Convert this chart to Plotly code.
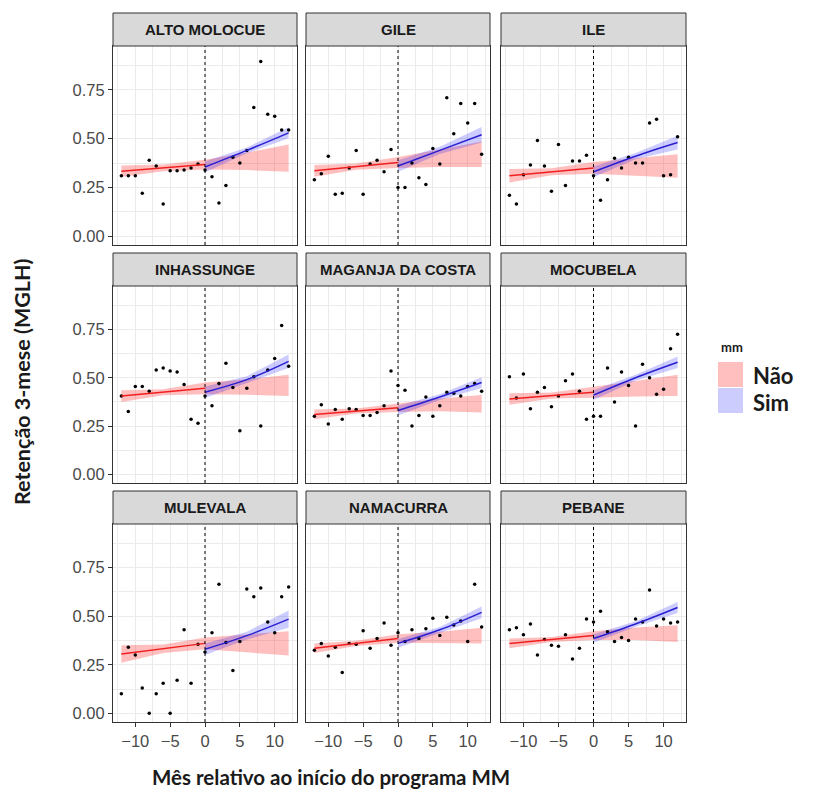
import plotly.graph_objects as go

# ---- data -------------------------------------------------------------
districts = ["ALTO MOLOCUE", "GILE", "ILE",
             "INHASSUNGE", "MAGANJA DA COSTA", "MOCUBELA",
             "MULEVALA", "NAMACURRA", "PEBANE"]

months = list(range(-12, 13))

retention = {
    "ALTO MOLOCUE": [0.31, 0.31, 0.31, 0.22, 0.39, 0.36, 0.165, 0.335, 0.335, 0.34, 0.35, 0.37,
                     0.34, 0.305, 0.17, 0.26, 0.405, 0.375, 0.44, 0.66, 0.895, 0.625, 0.615, 0.545, 0.545],
    "GILE": [0.29, 0.32, 0.41, 0.215, 0.22, 0.35, 0.44, 0.215, 0.37, 0.39, 0.33, 0.445,
             0.25, 0.25, 0.375, 0.30, 0.265, 0.45, 0.37, 0.71, 0.525, 0.68, 0.58, 0.68, 0.42],
    "ILE": [0.21, 0.165, 0.315, 0.365, 0.49, 0.36, 0.23, 0.47, 0.26, 0.385, 0.385, 0.415,
            0.31, 0.185, 0.29, 0.40, 0.35, 0.405, 0.375, 0.375, 0.58, 0.60, 0.31, 0.315, 0.51],
    "INHASSUNGE": [0.405, 0.325, 0.455, 0.455, 0.43, 0.54, 0.55, 0.535, 0.53, 0.465, 0.285, 0.265,
                   0.405, 0.355, 0.47, 0.575, 0.45, 0.225, 0.445, 0.505, 0.25, 0.54, 0.60, 0.77, 0.56],
    "MAGANJA DA COSTA": [0.30, 0.36, 0.26, 0.335, 0.285, 0.34, 0.335, 0.305, 0.305, 0.32, 0.355, 0.535,
                         0.46, 0.435, 0.25, 0.305, 0.40, 0.30, 0.355, 0.425, 0.42, 0.405, 0.455, 0.47, 0.43],
    "MOCUBELA": [0.505, 0.395, 0.52, 0.34, 0.425, 0.45, 0.35, 0.405, 0.485, 0.52, 0.43, 0.285,
                 0.30, 0.30, 0.55, 0.375, 0.53, 0.46, 0.25, 0.57, 0.50, 0.415, 0.44, 0.65, 0.725],
    "MULEVALA": [0.10, 0.34, 0.30, 0.13, 0.0, 0.10, 0.155, 0.0, 0.17, 0.43, 0.155, 0.355,
                 0.315, 0.415, 0.665, 0.365, 0.22, 0.37, 0.64, 0.60, 0.645, 0.47, 0.415, 0.60, 0.65],
    "NAMACURRA": [0.325, 0.36, 0.295, 0.34, 0.21, 0.36, 0.355, 0.425, 0.335, 0.385, 0.465, 0.35,
                  0.415, 0.37, 0.43, 0.385, 0.435, 0.49, 0.40, 0.495, 0.455, 0.475, 0.37, 0.665, 0.445],
    "PEBANE": [0.43, 0.44, 0.405, 0.46, 0.30, 0.38, 0.35, 0.345, 0.405, 0.28, 0.335, 0.485,
               0.47, 0.525, 0.42, 0.37, 0.39, 0.375, 0.485, 0.47, 0.635, 0.45, 0.485, 0.465, 0.47],
}

# "Não" trend (pre-period fit, extended as counterfactual band after month 0)
nao_x = [-12, -6, 0, 6, 12]
nao_fit = {
    "ALTO MOLOCUE": [0.333, 0.350, 0.367, 0.384, 0.400],
    "GILE": [0.335, 0.357, 0.378, 0.400, 0.420],
    "ILE": [0.310, 0.330, 0.350, 0.355, 0.360],
    "INHASSUNGE": [0.405, 0.425, 0.445, 0.452, 0.460],
    "MAGANJA DA COSTA": [0.310, 0.328, 0.345, 0.360, 0.365],
    "MOCUBELA": [0.390, 0.408, 0.425, 0.443, 0.460],
    "MULEVALA": [0.305, 0.332, 0.360, 0.360, 0.360],
    "NAMACURRA": [0.335, 0.360, 0.385, 0.390, 0.400],
    "PEBANE": [0.360, 0.380, 0.400, 0.410, 0.410],
}
nao_se = {
    "ALTO MOLOCUE": [0.030, 0.017, 0.025, 0.045, 0.070],
    "GILE": [0.030, 0.016, 0.028, 0.045, 0.065],
    "ILE": [0.035, 0.018, 0.030, 0.045, 0.060],
    "INHASSUNGE": [0.030, 0.016, 0.030, 0.040, 0.055],
    "MAGANJA DA COSTA": [0.025, 0.013, 0.022, 0.033, 0.045],
    "MOCUBELA": [0.030, 0.016, 0.028, 0.040, 0.055],
    "MULEVALA": [0.045, 0.022, 0.030, 0.045, 0.063],
    "NAMACURRA": [0.025, 0.013, 0.022, 0.030, 0.040],
    "PEBANE": [0.025, 0.013, 0.022, 0.032, 0.043],
}

# "Sim" trend (post-period fit)
sim_x = [0, 6, 12]
sim_fit = {
    "ALTO MOLOCUE": [0.355, 0.440, 0.530],
    "GILE": [0.360, 0.440, 0.520],
    "ILE": [0.330, 0.410, 0.480],
    "INHASSUNGE": [0.425, 0.490, 0.585],
    "MAGANJA DA COSTA": [0.330, 0.400, 0.475],
    "MOCUBELA": [0.410, 0.500, 0.580],
    "MULEVALA": [0.330, 0.400, 0.485],
    "NAMACURRA": [0.360, 0.430, 0.520],
    "PEBANE": [0.385, 0.460, 0.545],
}
sim_se = {
    "ALTO MOLOCUE": [0.028, 0.015, 0.028],
    "GILE": [0.030, 0.018, 0.040],
    "ILE": [0.028, 0.016, 0.035],
    "INHASSUNGE": [0.030, 0.018, 0.035],
    "MAGANJA DA COSTA": [0.025, 0.015, 0.028],
    "MOCUBELA": [0.025, 0.016, 0.030],
    "MULEVALA": [0.030, 0.020, 0.045],
    "NAMACURRA": [0.022, 0.014, 0.030],
    "PEBANE": [0.022, 0.014, 0.028],
}

x_ticks = [-10, -5, 0, 5, 10]
y_ticks = [0.0, 0.25, 0.50, 0.75]
y_tick_labels = ["0.00", "0.25", "0.50", "0.75"]
group_labels = ["Não", "Sim"]

# ---- styling / layout -------------------------------------------------
W, H = 817, 794
col_px = [(113, 297), (306, 490), (501, 686)]
row_px = [(46, 245), (286, 483), (524, 722)]
STRIP_H = 33

NAO_FILL = "rgba(255,0,0,0.25)"
SIM_FILL = "rgba(0,0,255,0.2)"
NAO_LINE = "#F02020"
SIM_LINE = "#2A1FD0"
GRID = "#EBEBEB"
DARK = "#333333"
TICK_FONT = dict(family="Liberation Sans, Arial, sans-serif", size=16.5, color="#4A4A4A")
TITLE_FAMILY = "Lato, Carlito, sans-serif"


def fx(p):
    return p / W


def fy(p):
    return 1 - p / H


fig = go.Figure()
shapes = []
annotations = []
layout_axes = {}

for i, name in enumerate(districts):
    r, c = divmod(i, 3)
    n = i + 1
    xa = "x" if n == 1 else f"x{n}"
    ya = "y" if n == 1 else f"y{n}"
    xkey = "xaxis" if n == 1 else f"xaxis{n}"
    ykey = "yaxis" if n == 1 else f"yaxis{n}"

    xl, xr = col_px[c]
    yt, yb = row_px[r]

    # confidence bands
    lo = [f - s for f, s in zip(nao_fit[name], nao_se[name])]
    hi = [f + s for f, s in zip(nao_fit[name], nao_se[name])]
    fig.add_trace(go.Scatter(x=nao_x + nao_x[::-1], y=lo + hi[::-1], fill="toself",
                             fillcolor=NAO_FILL, line=dict(width=0), mode="lines",
                             hoverinfo="skip", showlegend=False, xaxis=xa, yaxis=ya))
    lo = [f - s for f, s in zip(sim_fit[name], sim_se[name])]
    hi = [f + s for f, s in zip(sim_fit[name], sim_se[name])]
    fig.add_trace(go.Scatter(x=sim_x + sim_x[::-1], y=lo + hi[::-1], fill="toself",
                             fillcolor=SIM_FILL, line=dict(width=0), mode="lines",
                             hoverinfo="skip", showlegend=False, xaxis=xa, yaxis=ya))

    # observed monthly retention
    fig.add_trace(go.Scatter(x=months, y=retention[name], mode="markers",
                             marker=dict(size=3.5, color="black"),
                             showlegend=False, xaxis=xa, yaxis=ya))

    # fitted trend lines
    pre = [(x, y) for x, y in zip(nao_x, nao_fit[name]) if x <= 0]
    fig.add_trace(go.Scatter(x=[p[0] for p in pre], y=[p[1] for p in pre], mode="lines",
                             line=dict(color=NAO_LINE, width=1.5),
                             showlegend=False, xaxis=xa, yaxis=ya))
    fig.add_trace(go.Scatter(x=sim_x, y=sim_fit[name], mode="lines",
                             line=dict(color=SIM_LINE, width=1.5, shape="spline"),
                             showlegend=False, xaxis=xa, yaxis=ya))

    layout_axes[xkey] = dict(
        domain=[fx(xl), fx(xr)], anchor=ya, range=[-13.2, 13.2],
        tickvals=x_ticks, showticklabels=(r == 2), ticks="outside" if r == 2 else "",
        ticklen=4, tickcolor=DARK, tickfont=TICK_FONT,
        showgrid=True, gridcolor=GRID, gridwidth=1, zeroline=False,
        minor=dict(tickvals=[-12.5, -7.5, -2.5, 2.5, 7.5, 12.5], showgrid=True,
                   gridcolor=GRID, gridwidth=0.5),
        showline=True, mirror=True, linecolor=DARK, linewidth=1, fixedrange=True,
    )
    layout_axes[ykey] = dict(
        domain=[fy(yb), fy(yt)], anchor=xa, range=[-0.045, 0.975],
        tickvals=y_ticks, ticktext=y_tick_labels, showticklabels=(c == 0),
        ticks="outside" if c == 0 else "", ticklen=4, tickcolor=DARK, tickfont=TICK_FONT,
        showgrid=True, gridcolor=GRID, gridwidth=1, zeroline=False,
        minor=dict(tickvals=[0.125, 0.375, 0.625, 0.875], showgrid=True,
                   gridcolor=GRID, gridwidth=0.5),
        showline=True, mirror=True, linecolor=DARK, linewidth=1, fixedrange=True,
    )

    # programme start marker
    shapes.append(dict(type="line", xref=xa, yref=f"{ya} domain", x0=0, x1=0, y0=0, y1=1,
                       line=dict(color="black", width=1, dash="3px,3px"), layer="above"))

    # facet strip
    shapes.append(dict(type="rect", xref="paper", yref="paper",
                       x0=fx(xl), x1=fx(xr), y0=fy(yt), y1=fy(yt - STRIP_H),
                       fillcolor="#D9D9D9", line=dict(color=DARK, width=1)))
    annotations.append(dict(text=f"<b>{name}</b>", xref="paper", yref="paper",
                            x=fx((xl + xr) / 2), y=fy(yt - STRIP_H / 2),
                            showarrow=False, xanchor="center", yanchor="middle",
                            font=dict(family="Liberation Sans, Arial, sans-serif",
                                      size=15, color="#1A1A1A")))

# legend
annotations.append(dict(text="<b>mm</b>", xref="paper", yref="paper", x=fx(719), y=fy(347),
                        xanchor="left", yanchor="middle", showarrow=False,
                        font=dict(family=TITLE_FAMILY, size=13, color="#1A1A1A")))
for k, (label, fill) in enumerate(zip(group_labels, [NAO_FILL, SIM_FILL])):
    top = 362 + k * 26
    shapes.append(dict(type="rect", xref="paper", yref="paper",
                       x0=fx(718), x1=fx(743), y0=fy(top + 25), y1=fy(top),
                       fillcolor=fill, line=dict(width=0)))
    annotations.append(dict(text=f"<b>{label}</b>", xref="paper", yref="paper",
                            x=fx(751), y=fy(top + 14), xanchor="left", yanchor="middle",
                            showarrow=False,
                            font=dict(family=TITLE_FAMILY, size=22, color="#1A1A1A")))

# axis titles
annotations.append(dict(text="<b>Retenção 3-mese (MGLH)</b>", xref="paper", yref="paper",
                        x=fx(22), y=fy(382), textangle=-90, showarrow=False,
                        xanchor="center", yanchor="middle",
                        font=dict(family=TITLE_FAMILY, size=21.5, color="#1A1A1A")))
annotations.append(dict(text="<b>Mês relativo ao início do programa MM</b>", xref="paper",
                        yref="paper", x=fx(331), y=fy(777), showarrow=False,
                        xanchor="center", yanchor="middle",
                        font=dict(family=TITLE_FAMILY, size=20.5, color="#1A1A1A")))

fig.update_layout(
    width=W, height=H, margin=dict(l=0, r=0, t=0, b=0),
    paper_bgcolor="white", plot_bgcolor="white",
    shapes=shapes, annotations=annotations, showlegend=False,
    **layout_axes,
)

fig.write_html("out.html")
